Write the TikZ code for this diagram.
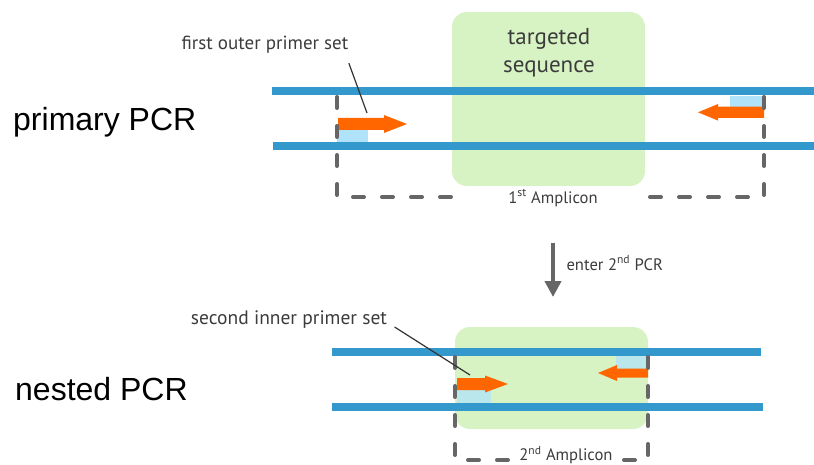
\documentclass[tikz,border=0pt]{standalone}
\usepackage{fontspec}
\setmainfont{PT Sans}
\newfontfamily\headfont{Liberation Sans}
\usetikzlibrary{arrows.meta}

\definecolor{dnablue}{HTML}{3399CC}
\definecolor{primerorange}{HTML}{FF6600}
\definecolor{bindblue}{HTML}{B0E3FA}
\definecolor{targetgreen}{HTML}{D7F3C4}
\definecolor{dashgray}{HTML}{666666}
\definecolor{labelgray}{HTML}{3C3C3C}

\begin{document}
\begin{tikzpicture}[x=1pt,y=-1pt]
    \tikzstyle{every node}=[font=\fontsize{16.6}{20}\selectfont, text=labelgray]
    \tikzstyle{strand}=[draw=dnablue, line width=8pt]
    \tikzstyle{amplicon}=[draw=dashgray, line width=4pt, line cap=round,
        dash pattern=on 11pt off 18pt]
    \tikzstyle{primer}=[fill=primerorange]
    \tikzstyle{bind}=[fill=bindblue]
    \tikzstyle{region}=[fill=targetgreen, rounded corners=15pt]
    \tikzstyle{pointer}=[draw=black!80, line width=1.2pt]
    \tikzstyle{headline}=[font=\headfont\fontsize{32}{36}\selectfont,
        text=black, inner sep=0pt, anchor=base west]
    \useasboundingbox (0,0) rectangle (814,465);

    % primary PCR
    \fill[region] (452,12) rectangle (645,186);
    \draw[strand] (272,91.5) -- (814,91.5);
    \draw[strand] (273,146) -- (814,146);

    \fill[bind] (337,130) rectangle (368,141.7);
    \fill[bind] (730,96) rectangle (763,106.7);
    \fill[primer] (338,118) -- (384,118) -- (384,115) -- (407,124)
        -- (384,133) -- (384,130) -- (338,130) -- cycle;
    \fill[primer] (764,106.7) -- (718,106.7) -- (718,104) -- (698,112.3)
        -- (718,120.6) -- (718,118) -- (764,118) -- cycle;

    \draw[amplicon] (337,97) -- (337,197) -- (465,197);
    \draw[amplicon] (764,97) -- (764,197) -- (645,197);

    \node[headline] (primary) at (13,131) {primary PCR};
    \node[font=\fontsize{23}{28}\selectfont, align=center] (target)
        at (549,53) {targeted\\sequence};
    \node (ampone) at (553,198) {1\textsuperscript{st} Amplicon};
    \node[font=\fontsize{19}{22}\selectfont] (outerlbl) at (265,45)
        {first outer primer set};
    \coordinate (outertip) at (367,113);
    \draw[pointer] ([shift={(-3,6)}]outerlbl.south east) -- (outertip);

    % second round
    \coordinate (enterstart) at (553,243);
    \coordinate (enterend) at (553,297);
    \draw[draw=dashgray, line width=4pt,
        -{Triangle[length=16pt,width=16pt]}] (enterstart) -- (enterend);
    \node[anchor=west] (enterlbl) at (563,263) {enter 2\textsuperscript{nd} PCR};

    % nested PCR
    \fill[region] (455,327) rectangle (648,429);
    \draw[strand] (332,351.5) -- (761,351.5);
    \draw[strand] (332,407) -- (763,407);

    \fill[bind, fill opacity=0.75] (457,390) rectangle (491,402.7);
    \fill[bind, fill opacity=0.75] (616,356) rectangle (648,369);
    \fill[primer] (457,378) -- (485,378) -- (485,375.5) -- (508,384)
        -- (485,392.5) -- (485,390) -- (457,390) -- cycle;
    \fill[primer] (648,368.5) -- (617,368.5) -- (617,365) -- (598,373)
        -- (617,381) -- (617,377.5) -- (648,377.5) -- cycle;

    \draw[amplicon] (455,357) -- (455,460) -- (508,460);
    \draw[amplicon] (648,357) -- (648,460) -- (624,460);

    \node[headline] (nested) at (15,400) {nested PCR};
    \node (amptwo) at (566,455) {2\textsuperscript{nd} Amplicon};
    \node[font=\fontsize{19.5}{22}\selectfont] (innerlbl) at (289,320)
        {second inner primer set};
    \coordinate (innertip) at (470,375);
    \draw[pointer] ([shift={(4,7)}]innerlbl.east) -- (innertip);
\end{tikzpicture}
\end{document}
